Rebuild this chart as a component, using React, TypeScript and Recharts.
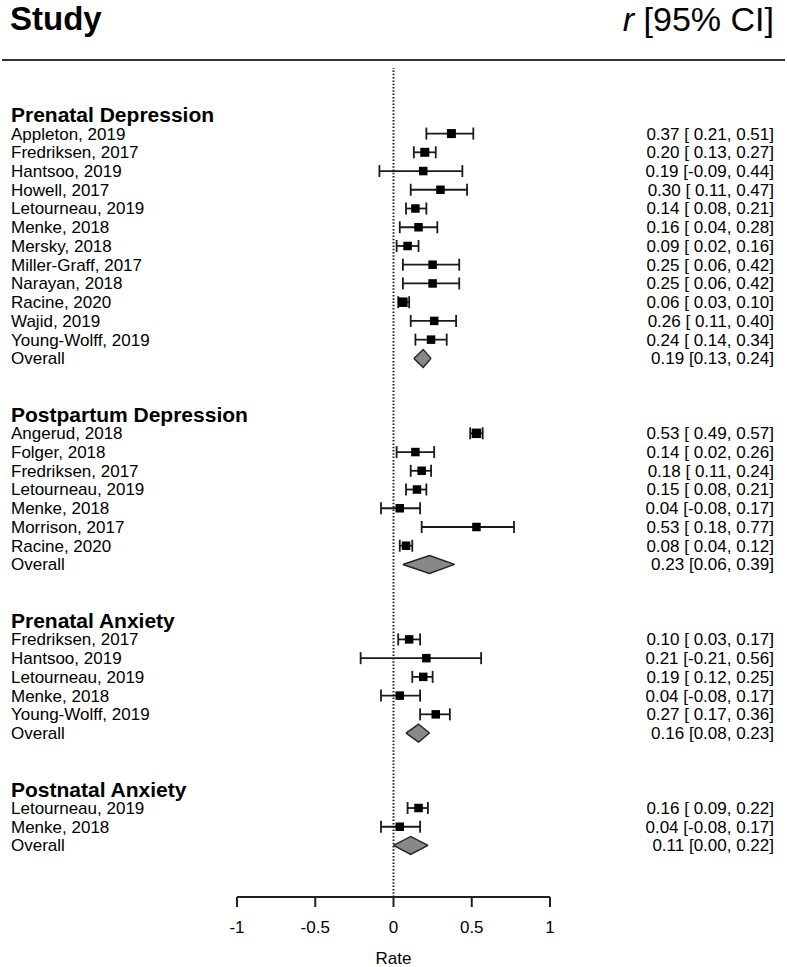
import React from "react";
import { ComposedChart, Scatter, Area, XAxis, YAxis, ErrorBar, ReferenceLine } from "recharts";

// section titles
const groupNames = ["Prenatal Depression", "Postpartum Depression", "Prenatal Anxiety", "Postnatal Anxiety"];

// r [lower, upper] per study
const prenatalDepStudies = [
  "Appleton, 2019", "Fredriksen, 2017", "Hantsoo, 2019", "Howell, 2017", "Letourneau, 2019", "Menke, 2018",
  "Mersky, 2018", "Miller-Graff, 2017", "Narayan, 2018", "Racine, 2020", "Wajid, 2019", "Young-Wolff, 2019",
];
const prenatalDepR = [
  [0.37, 0.21, 0.51], [0.2, 0.13, 0.27], [0.19, -0.09, 0.44], [0.3, 0.11, 0.47], [0.14, 0.08, 0.21], [0.16, 0.04, 0.28],
  [0.09, 0.02, 0.16], [0.25, 0.06, 0.42], [0.25, 0.06, 0.42], [0.06, 0.03, 0.1], [0.26, 0.11, 0.4], [0.24, 0.14, 0.34],
];
const prenatalDepWeight = [9, 9, 8.5, 8.5, 8.5, 8.5, 8.5, 8.5, 8.5, 9.5, 8.5, 8.5];
const prenatalDepOverall = [0.19, 0.13, 0.24];

const postpartumDepStudies = [
  "Angerud, 2018", "Folger, 2018", "Fredriksen, 2017", "Letourneau, 2019", "Menke, 2018", "Morrison, 2017", "Racine, 2020",
];
const postpartumDepR = [
  [0.53, 0.49, 0.57], [0.14, 0.02, 0.26], [0.18, 0.11, 0.24], [0.15, 0.08, 0.21], [0.04, -0.08, 0.17], [0.53, 0.18, 0.77], [0.08, 0.04, 0.12],
];
const postpartumDepWeight = [9.5, 8.5, 8.5, 8.5, 8.5, 8.5, 8.5];
const postpartumDepOverall = [0.23, 0.06, 0.39];

const prenatalAnxStudies = ["Fredriksen, 2017", "Hantsoo, 2019", "Letourneau, 2019", "Menke, 2018", "Young-Wolff, 2019"];
const prenatalAnxR = [[0.1, 0.03, 0.17], [0.21, -0.21, 0.56], [0.19, 0.12, 0.25], [0.04, -0.08, 0.17], [0.27, 0.17, 0.36]];
const prenatalAnxWeight = [8.5, 8.5, 8.5, 8.5, 8.5];
const prenatalAnxOverall = [0.16, 0.08, 0.23];

const postnatalAnxStudies = ["Letourneau, 2019", "Menke, 2018"];
const postnatalAnxR = [[0.16, 0.09, 0.22], [0.04, -0.08, 0.17]];
const postnatalAnxWeight = [8.5, 8.5];
const postnatalAnxOverall = [0.11, 0.0, 0.22];

const xTicks = [-1, -0.5, 0, 0.5, 1];

const FONT = '"Liberation Sans", Arial, Helvetica, sans-serif';

const groups = [
  { name: groupNames[0], studies: prenatalDepStudies, r: prenatalDepR, w: prenatalDepWeight, overall: prenatalDepOverall },
  { name: groupNames[1], studies: postpartumDepStudies, r: postpartumDepR, w: postpartumDepWeight, overall: postpartumDepOverall },
  { name: groupNames[2], studies: prenatalAnxStudies, r: prenatalAnxR, w: prenatalAnxWeight, overall: prenatalAnxOverall },
  { name: groupNames[3], studies: postnatalAnxStudies, r: postnatalAnxR, w: postnatalAnxWeight, overall: postnatalAnxOverall },
];

type Row = { row: number; label: string; kind: "header" | "study" | "overall"; r?: number[]; size?: number };

const f2 = (v: number) => v.toFixed(2);
const ciText = (r: number[], pad: boolean) =>
  `${f2(r[0])} [${pad && r[1] >= 0 ? "\u00a0" : ""}${f2(r[1])}, ${f2(r[2])}]`;

// header, studies, overall, then two empty rows before the next section
const rows: Row[] = [];
let cur = 0;
groups.forEach((g) => {
  rows.push({ row: cur, label: g.name, kind: "header" });
  g.studies.forEach((s, i) => rows.push({ row: cur + 1 + i, label: s, kind: "study", r: g.r[i], size: g.w[i] }));
  const ov = cur + 1 + g.studies.length;
  rows.push({ row: ov, label: "Overall", kind: "overall", r: g.overall });
  cur = ov + 3;
});

const rowByNum = new Map(rows.map((r) => [r.row, r]));

const studyPoints = rows
  .filter((r) => r.kind === "study")
  .map((r) => ({ x: r.r![0], y: r.row, err: [r.r![0] - r.r![1], r.r![2] - r.r![0]], size: r.size }));

const DH = 0.48; // diamond half height in rows
const diamonds = rows
  .filter((r) => r.kind === "overall")
  .map((r) => [
    { x: r.r![1], y: [r.row, r.row] },
    { x: r.r![0], y: [r.row - DH, r.row + DH] },
    { x: r.r![2], y: [r.row, r.row] },
  ]);

const RowTick = (props: any) => {
  const { y, payload } = props;
  const r = rowByNum.get(payload.value);
  if (!r) return null;
  const header = r.kind === "header";
  return (
    <g>
      <text x={11} y={y} dy="0.35em" fontFamily={FONT} fontSize={header ? 21 : 17} fontWeight={header ? "bold" : "normal"} fill="#000">
        {r.label}
      </text>
      {r.r && (
        <text x={774} y={y} dy="0.35em" textAnchor="end" fontFamily={FONT} fontSize={17} fill="#000">
          {ciText(r.r, r.kind === "study")}
        </text>
      )}
    </g>
  );
};

const Square = (props: any) => {
  const { cx, cy, payload } = props;
  const s = payload.size || 8;
  return <rect x={cx - s / 2} y={cy - s / 2} width={s} height={s} fill="#000" />;
};

export default function App() {
  return (
    <div style={{ position: "absolute", left: 0, top: 0, width: 787, height: 967, background: "#fff" }}>
      <ComposedChart width={787} height={967} margin={{ top: 68, right: 237, bottom: 0, left: 0 }}>
        <XAxis
          dataKey="x"
          type="number"
          domain={[-1, 1]}
          allowDataOverflow
          ticks={xTicks}
          height={70}
          tickSize={10}
          tickMargin={14}
          stroke="#222"
          strokeWidth={2}
          tick={{ fill: "#000", fontSize: 17, fontFamily: FONT }}
          label={{ value: "Rate", position: "insideBottom", offset: 3, fill: "#000", fontSize: 17, fontFamily: FONT }}
        />
        <YAxis
          dataKey="y"
          type="number"
          domain={[-2.5, 41.75]}
          allowDataOverflow
          reversed
          width={237}
          ticks={rows.map((r) => r.row)}
          interval={0}
          axisLine={false}
          tickLine={false}
          tick={<RowTick />}
        />
        <ReferenceLine x={0} stroke="#222" strokeWidth={2} strokeDasharray="1.5 1.8" />
        {diamonds.map((d, i) => (
          <Area
            key={`diamond-${i}`}
            data={d}
            dataKey="y"
            type="linear"
            fill="#888"
            fillOpacity={1}
            stroke="#222"
            strokeWidth={1.4}
            isAnimationActive={false}
            dot={false}
            activeDot={false}
          />
        ))}
        <Scatter data={studyPoints} shape={<Square />} isAnimationActive={false}>
          <ErrorBar dataKey="err" direction="x" width={6} stroke="#1a1a1a" strokeWidth={1.8} />
        </Scatter>
      </ComposedChart>
      <svg width={787} height={70} style={{ position: "absolute", left: 0, top: 0, pointerEvents: "none" }}>
        <text x={10} y={30} fontFamily={FONT} fontSize={33} fontWeight="bold" fill="#000">
          Study
        </text>
        <text x={774} y={31} textAnchor="end" fontFamily={FONT} fontSize={34} fill="#000">
          <tspan fontStyle="italic">r</tspan> [95% CI]
        </text>
        <line x1={2} x2={785} y1={60} y2={60} stroke="#333" strokeWidth={2} />
      </svg>
    </div>
  );
}
